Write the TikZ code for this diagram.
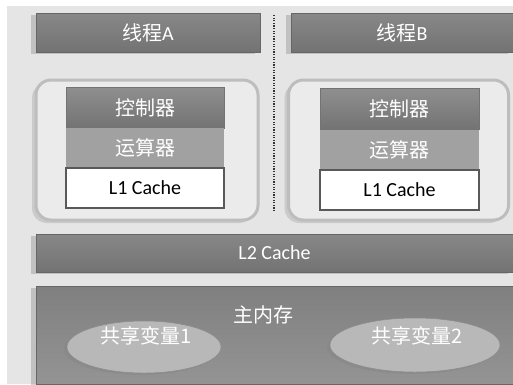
\documentclass[tikz,border=0pt]{standalone}
\usepackage{fontspec}
\setmainfont{Carlito}
\newfontfamily\cjk{Noto Sans CJK SC}
\usepackage{tikz}
\usetikzlibrary{shapes.geometric}
\usetikzlibrary{shadows}
\colorlet{bg}{black!10}
\colorlet{hdr}{black!55}
\colorlet{alu}{black!37}
\colorlet{frame}{black!26}

\begin{document}
\begin{tikzpicture}[x=1pt,y=-1pt,font=\fontsize{20}{24}\selectfont]
\tikzstyle{bar}=[rectangle,draw=black!60,line width=0.6pt,top color=hdr!85,bottom color=hdr,text=white,drop shadow={shadow xshift=-5pt,shadow yshift=-2pt,opacity=0.35}]
\tikzstyle{core}=[rectangle,rounded corners=15pt,draw=frame,line width=3pt,fill=black!8,drop shadow={shadow xshift=-4pt,shadow yshift=-3pt,opacity=0.25}]
\tikzstyle{unit}=[rectangle,draw=black!55,line width=0.6pt,text=white]
\tikzstyle{var}=[ellipse,draw=black!45,line width=0.5pt,fill=black!28,drop shadow={shadow xshift=-3pt,shadow yshift=-2pt,opacity=0.3}]

\useasboundingbox (0,0) rectangle (513,384);
\fill [white] (0,0) rectangle (513,384);
\fill [bg] (7,6) rectangle (513,384);

% threads
\node [bar] (tA) at(148,32.5)[minimum width=224pt,minimum height=39pt] {{\cjk 线程}A};
\node [bar] (tB) at(402,32.5)[minimum width=222pt,minimum height=39pt] {{\cjk 线程}B};

\coordinate (sepT) at(274,15);
\coordinate (sepB) at(274,212);
\draw [black!80,line width=1.6pt,dash pattern=on 1.2pt off 1.4pt] (sepT) -- (sepB);

% cores
\node [core] (cA) at(147,150)[minimum width=222pt,minimum height=140pt] {};
\node [core] (cB) at(398.5,150)[minimum width=220pt,minimum height=140pt] {};

\node [unit] (ctrlA) at(145,107.5)[minimum width=158pt,minimum height=41pt,top color=hdr!80,bottom color=hdr] {\cjk 控制器};
\node [unit] (aluA) at(145,148)[minimum width=158pt,minimum height=40pt,fill=alu,draw=none] {\cjk 运算器};
\node [unit] (l1A) at(145,188)[minimum width=158pt,minimum height=40pt,fill=white,text=black,line width=1.2pt,draw=black!65] {L1 Cache};

\node [unit] (ctrlB) at(399.5,109)[minimum width=159pt,minimum height=41pt,top color=hdr!80,bottom color=hdr] {\cjk 控制器};
\node [unit] (aluB) at(399.5,150)[minimum width=159pt,minimum height=40pt,fill=alu,draw=none] {\cjk 运算器};
\node [unit] (l1B) at(399.5,190)[minimum width=159pt,minimum height=40pt,fill=white,text=black,line width=1.2pt,draw=black!65] {L1 Cache};

% shared levels
\node [bar] (l2) at(274.5,253)[minimum width=477pt,minimum height=38pt] {L2 Cache};
\node [bar] (mem) at(274.5,335)[minimum width=477pt,minimum height=98pt,top color=black!50,bottom color=black!42] {};
\node [text=white] (memL) at(263,315) {\cjk 主内存};

\node [var] (v1) at(144,347)[minimum width=154pt,minimum height=52pt] {};
\node [text=white] (v1L) at(146,336) {\cjk 共享变量1};
\node [var] (v2) at(415,345)[minimum width=170pt,minimum height=54pt] {};
\node [text=white] (v2L) at(417,336) {\cjk 共享变量2};
\end{tikzpicture}
\end{document}
